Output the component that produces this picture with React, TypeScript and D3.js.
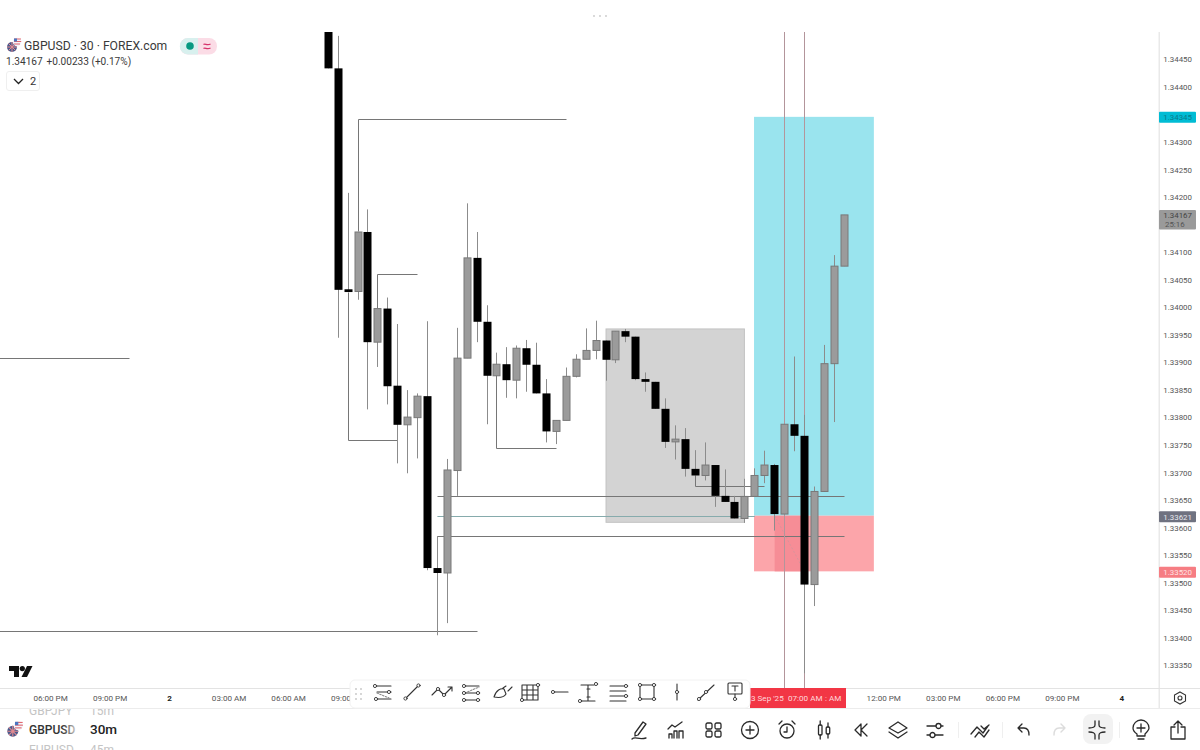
import React from "react";
import * as d3 from "d3";

const opens = [1.34521,1.34433,1.34032,1.34028,1.34136,1.33936,1.33997,1.33857,1.33786,1.33799,1.33838,1.33526,1.33517,1.33703,1.33907,1.34089,1.33973,1.33875,1.33896,1.33867,1.33925,1.33895,1.33843,1.33774,1.33794,1.33874,1.33905,1.33921,1.33939,1.33904,1.33956,1.33946,1.33869,1.33864,1.33815,1.33755,1.33760,1.33706,1.33694,1.33713,1.33657,1.33646,1.33616,1.33656,1.33694,1.33713,1.33624,1.33787,1.33766,1.33496,1.33665,1.33897,1.34074];
const closes = [1.34433,1.34031,1.34027,1.34136,1.33936,1.33997,1.33856,1.33786,1.33800,1.33838,1.33526,1.33517,1.33704,1.33907,1.34089,1.33973,1.33875,1.33896,1.33867,1.33925,1.33895,1.33843,1.33774,1.33794,1.33874,1.33905,1.33921,1.33939,1.33904,1.33956,1.33946,1.33869,1.33864,1.33815,1.33755,1.33760,1.33706,1.33694,1.33713,1.33657,1.33646,1.33616,1.33656,1.33694,1.33713,1.33624,1.33787,1.33766,1.33496,1.33665,1.33897,1.34074,1.34167];
const highs = [1.34521,1.34492,1.34207,1.34136,1.34177,1.33997,1.34017,1.33969,1.33849,1.33843,1.33974,1.33584,1.33724,1.33962,1.34188,1.34136,1.34003,1.33917,1.33927,1.33930,1.33940,1.33935,1.33869,1.33794,1.33890,1.33914,1.33961,1.33975,1.33939,1.33956,1.33960,1.33946,1.33881,1.33864,1.33834,1.33785,1.33780,1.33740,1.33754,1.33713,1.33705,1.33657,1.33688,1.33707,1.33739,1.33715,1.33787,1.33910,1.33804,1.33674,1.33931,1.34094,1.34167];
const lows = [1.34433,1.33944,1.34027,1.34013,1.33814,1.33891,1.33823,1.33716,1.33698,1.33725,1.33522,1.33404,1.33426,1.33657,1.33907,1.33936,1.33787,1.33875,1.33835,1.33834,1.33846,1.33843,1.33754,1.33751,1.33794,1.33872,1.33905,1.33905,1.33866,1.33898,1.33936,1.33867,1.33846,1.33815,1.33744,1.33723,1.33692,1.33694,1.33685,1.33637,1.33646,1.33616,1.33608,1.33656,1.33680,1.33594,1.33624,1.33738,1.33335,1.33457,1.33665,1.33791,1.34074];

const priceTicks = [1.3445,1.344,1.343,1.3425,1.342,1.341,1.3405,1.34,1.3395,1.339,1.3385,1.338,1.3375,1.337,1.3365,1.336,1.3355,1.335,1.3345,1.334,1.3335];
const timeTicks: [number, string, boolean][] = [[-28,"06:00 PM",false],[-22,"09:00 PM",false],[-16,"2",true],[-10,"03:00 AM",false],[-4,"06:00 AM",false],[2,"09:00 AM",false],[56,"12:00 PM",false],[62,"03:00 PM",false],[68,"06:00 PM",false],[74,"09:00 PM",false],[80,"4",true]];

const grayZone = { i0: 28, i1: 41.95, top: 1.3396, bottom: 1.33609 };
const position = { i0: 42.92, i1: 55, target: 1.34345, entry: 1.33621, stop: 1.3352, hit0: 45, hit1: 48 };
const crossIdx = [46, 48];
const paths: [number, number][][] = [
  [[-34, 1.33906], [-20, 1.33906]],
  [[-34, 1.3341], [15, 1.3341]],
  [[3, 1.34136], [3, 1.34341], [24, 1.34341]],
  [[5, 1.33997], [5, 1.34058], [9, 1.34058]],
  [[2, 1.34027], [2, 1.33757], [7, 1.33757]],
  [[17, 1.33875], [17, 1.33743], [23, 1.33743]],
  [[37, 1.33694], [37, 1.33674], [44, 1.33674]],
  [[11, 1.33656], [52, 1.33656]],
  [[11, 1.33583], [52, 1.33583]],
  [[11, 1.33583], [11, 1.33517]],
];
const tealLevel: [number, number][] = [[11, 1.3362], [43, 1.3362]];

const W = 1200, H = 750;
const x = d3.scaleLinear().domain([0, 52]).range([328.3, 844.1]);
const y = d3.scaleLinear().domain([1.3335, 1.3445]).range([665, 59]);
const FONT = "Roboto, sans-serif";
const snap = (v: number) => Math.round(v - 0.5) + 0.5;
const lineGen = d3.line<[number, number]>().x((d) => x(d[0])).y((d) => y(d[1]));
const snapLine = d3.line<[number, number]>().x((d) => snap(x(d[0]))).y((d) => snap(y(d[1])));

const ic = { fill: "none", stroke: "#333", strokeWidth: 1.1, strokeLinecap: "round" as const, strokeLinejoin: "round" as const };
const Dot = ({ cx, cy }: { cx: number; cy: number }) => <circle cx={cx} cy={cy} r={1.6} fill="#fff" stroke="#333" strokeWidth={0.9} />;

function FloatIcons() {
  const items: [number, React.ReactNode][] = [
    [383, <g {...ic}><path d="M-8,-6H8M-6,0H8M-6,7H8" /><path d="M-6,1L6,6" strokeDasharray="1.5 1.5" stroke="#888" /><Dot cx={-8} cy={-6} /><Dot cx={6} cy={0} /><Dot cx={-7} cy={7} /></g>],
    [412, <g {...ic}><path d="M-6,6L6,-6" /><Dot cx={-6.5} cy={6.5} /><Dot cx={6.5} cy={-6.5} /></g>],
    [442, <g {...ic}><path d="M-10,3L-4,-3L2,3L10,-5M6,-5H10V-1" /><Dot cx={-4} cy={-3} /><Dot cx={2} cy={3} /></g>],
    [471, <g {...ic}><path d="M-6,-6H8M-6,1H8M-6,8H8" /><path d="M-6,1L8,-5" strokeDasharray="1.5 1.5" stroke="#888" /><Dot cx={-7} cy={-6} /><Dot cx={-7} cy={1} /><Dot cx={7} cy={1} /><Dot cx={-7} cy={8} /><Dot cx={7} cy={8} /></g>],
    [503, <g {...ic}><path d="M-9,5C-7,-2 -2,-4 1,-3L3,2C1,5 -4,6 -9,5ZM0,-4L3,-6M5,-1L9,-5" /></g>],
    [530, <g {...ic}><path d="M-8,-7H8V8H-8ZM-3,-7V8M3,-7V8M-8,-2H8M-8,3H8" /><Dot cx={8} cy={-7} /><Dot cx={-8} cy={8} /></g>],
    [560, <g {...ic}><path d="M-5,0H8" /><Dot cx={-7} cy={0} /></g>],
    [588, <g {...ic}><path d="M-7,-7H6M-7,9H7M0,-7V9M-1,-3H2M-1,5H2" /><Dot cx={8} cy={-8} /><Dot cx={-8} cy={9} /></g>],
    [618, <g {...ic}><path d="M-8,-6H7M-8,-1H8M-8,4H8M-8,9H8" /><Dot cx={8} cy={-6} /><Dot cx={8} cy={4} /></g>],
    [647, <g {...ic}><path d="M-7,-7H7V7H-7Z" /><Dot cx={-7} cy={-7} /><Dot cx={7} cy={-7} /><Dot cx={-7} cy={7} /><Dot cx={7} cy={7} /></g>],
    [677, <g {...ic}><path d="M0,-8V8" /><Dot cx={0} cy={0} /></g>],
    [706, <g {...ic}><path d="M-8,8L8,-7" /><Dot cx={-7} cy={7} /><Dot cx={0} cy={0} /></g>],
    [735, <g {...ic}><rect x={-7} y={-9} width={14} height={11} rx={1} /><path d="M-3,-6H3M0,-6V-1M0,2V6" /><Dot cx={0} cy={7} /></g>],
  ];
  return <>{items.map(([cx, n], i) => <g key={i} transform={`translate(${cx},692)`}>{n}</g>)}</>;
}

function BottomIcons() {
  const s = { fill: "none", stroke: "#2a2a2a", strokeWidth: 1.3, strokeLinecap: "round" as const, strokeLinejoin: "round" as const };
  const items: [number, React.ReactNode][] = [
    [639, <g {...s}><path d="M-4,3L4,-8L7,-6L-1,5L-4,6ZM-7,9C-4,6 -1,10 7,8" /></g>],
    [676, <g {...s}><path d="M-7,8V4H-4V8M-2,8V1H1V8M3,8V1H7V8M-8,-1L-4,-5L-1,-3L6,-8" /></g>],
    [713, <g {...s}><rect x={-7} y={-7} width={6} height={6} rx={1.5} /><rect x={2} y={-7} width={6} height={6} rx={1.5} /><rect x={-7} y={1} width={6} height={6} rx={1.5} /><rect x={2} y={1} width={6} height={6} rx={1.5} /></g>],
    [750, <g {...s}><circle r={8.5} /><path d="M-4,0H4M0,-4V4" /></g>],
    [787, <g {...s}><circle r={7} cy={1} /><path d="M0,-3V2H-3M-8,-6L-5,-9M8,-6L5,-9" /></g>],
    [824, <g {...s}><rect x={-5.5} y={-5} width={3.5} height={10} rx={1} /><path d="M-3.8,-9V-5M-3.8,5V9M4,-7V-3M4,4V8" /><rect x={2.2} y={-3} width={3.5} height={7} rx={1} /></g>],
    [861, <g {...s}><path d="M0,-6L-6,0L0,6V-6ZM6,-6L0,0L6,6" /></g>],
    [898, <g {...s}><path d="M0,-8L9,-2L0,3L-9,-2ZM-9,2L0,8L9,2" /></g>],
    [935, <g {...s}><path d="M-8,-4H1M6,-4H8M-8,5H-5M0,5H8" /><circle cx={3.5} cy={-4} r={2.5} /><circle cx={-2.5} cy={5} r={2.5} /></g>],
    [980, <g {...s}><path d="M-9,4L-3,-3L3,3L8,-4M-5,7L-1,2L4,7L9,0M1,-4L4,-1L9,-5" /></g>],
    [1023, <g {...s}><path d="M-5,-2L-1,-6M-5,-2L-1,2M-5,-2H1C4,-2 6,0 6,5" /></g>],
    [1060, <g fill="none" stroke="#dcdcdc" strokeWidth={1.4} strokeLinecap="round"><path d="M5,-2L1,-6M5,-2L1,2M5,-2H-1C-4,-2 -6,0 -6,5" /></g>],
    [1097, <g {...s}><path d="M-2,-9V-5C-2,-3 -4,-2 -8,-2M2,-9V-5C2,-3 4,-2 8,-2M-2,9V5C-2,3 -4,2 -8,2M2,9V5C2,3 4,2 8,2" /></g>],
    [1141, <g {...s}><path d="M-4,4C-7,2 -8,-1 -8,-2A8,8 0 1 1 8,-2C8,0 6,2 4,4V6H-4ZM-3,9H3M-4,-2H4M0,-6V2" /></g>],
    [1178, <g {...s}><path d="M0,-9V3M-4,-5L0,-9L4,-5M-3,-3H-7V9H7V-3H3" /></g>],
  ];
  return <>{items.map(([cx, n], i) => <g key={i} transform={`translate(${cx},730)`}>{n}</g>)}</>;
}

const Flag = ({ cx, cy, s = 1 }: { cx: number; cy: number; s?: number }) => (
  <g transform={`translate(${cx},${cy}) scale(${s})`}>
    <circle cx={-2} cy={2} r={5} fill="#4a5a8c" />
    <path d="M-7,2H3M-2,-3V7M-5.5,-1.5L1.5,5.5M1.5,-1.5L-5.5,5.5" stroke="#e28a90" strokeWidth={1} />
    <circle cx={3} cy={-3} r={4.2} fill="#f3f3f8" />
    <path d="M0,-6H7M0,-3.5H7.2M0,-1H6" stroke="#dd5560" strokeWidth={0.9} />
    <rect x={0} y={-6.5} width={3} height={3} fill="#4a76c0" />
  </g>
);

export default function App() {
  const n = opens.length;
  const zoneRect = (i0: number, i1: number, top: number, bottom: number) => ({
    x: x(i0), width: x(i1) - x(i0), y: y(top), height: y(bottom) - y(top),
  });
  return (
    <svg width={W} height={H} viewBox={`0 0 ${W} ${H}`} style={{ position: "fixed", left: 0, top: 0, background: "#fff" }} fontFamily={FONT}>
      <defs>
        <clipPath id="pane"><rect x={0} y={32} width={1158} height={656} /></clipPath>
        <clipPath id="list"><rect x={0} y={709} width={130} height={41} /></clipPath>
        <linearGradient id="fade" x1="0" x2="1" y1="0" y2="0"><stop offset="0.72" stopColor="#333" /><stop offset="1" stopColor="#c4c4c4" /></linearGradient>
      </defs>
      <g clipPath="url(#pane)">
        <rect {...zoneRect(grayZone.i0, grayZone.i1, grayZone.top, grayZone.bottom)} fill="#d3d3d3" stroke="#c2c2c2" strokeWidth={1} />
        <rect {...zoneRect(position.i0, position.i1, position.target, position.entry)} fill="#9ae4ee" />
        <rect {...zoneRect(position.i0, position.i1, position.entry, position.stop)} fill="#fca5aa" />
        <rect {...zoneRect(position.hit0, position.hit1, position.entry, position.stop)} fill="#f68d96" />
        <path d={lineGen([[position.hit0, position.entry], [position.hit1, position.stop]]) ?? ""} stroke="#d8949c" strokeDasharray="2 2" fill="none" />
        {paths.map((p, i) => (
          <path key={i} d={snapLine(p) ?? ""} fill="none" stroke="#767676" strokeWidth={1} />
        ))}
        <path d={d3.line<[number, number]>().x((d) => x(d[0])).y((d) => snap(y(d[1])))(tealLevel) ?? ""} fill="none" stroke="#86abac" strokeWidth={1} />
        {crossIdx.map((c) => (
          <line key={c} x1={snap(x(c))} x2={snap(x(c))} y1={32} y2={688} stroke="#b3959b" strokeWidth={1} />
        ))}
        {d3.range(n).map((i) => {
          const up = closes[i] >= opens[i];
          const cx = snap(x(i));
          const yTop = y(Math.max(opens[i], closes[i]));
          const yBot = y(Math.min(opens[i], closes[i]));
          return (
            <g key={i}>
              <line x1={cx} x2={cx} y1={y(highs[i])} y2={y(lows[i])} stroke="#8c8c8c" strokeWidth={1} />
              {up ? (
                <rect x={cx - 3.5} y={yTop} width={7} height={Math.max(yBot - yTop, 1)} fill="#9b9b9b" stroke="#787878" strokeWidth={1} />
              ) : (
                <rect x={cx - 4} y={yTop} width={8} height={Math.max(yBot - yTop, 2)} fill="#000" />
              )}
            </g>
          );
        })}
      </g>

      {/* price axis */}
      <rect x={1158.5} y={32} width={1.5} height={676} fill="#e9e9e9" />
      {priceTicks.map((p) => (
        <text key={p} x={1192} y={y(p) + 3.4} fontSize={7.9} fill="#555" textAnchor="end">{d3.format(".5f")(p)}</text>
      ))}
      <rect x={1159} y={y(position.target) - 5} width={37} height={11} rx={1} fill="#00bcd4" />
      <text x={1192} y={y(position.target) + 3.6} fontSize={7.9} fill="#0a7a8c" textAnchor="end">1.34345</text>
      <rect x={1159} y={y(closes[n - 1]) - 5} width={37} height={19.5} rx={1} fill="#9a9a9a" />
      <text x={1192} y={y(closes[n - 1]) + 3.5} fontSize={7.9} fill="#444" textAnchor="end">{d3.format(".5f")(closes[n - 1])}</text>
      <text x={1165} y={y(closes[n - 1]) + 12.5} fontSize={7.9} fill="#555">25:16</text>
      <rect x={1159} y={y(position.entry) - 4.5} width={37} height={11} rx={1} fill="#6f7280" />
      <text x={1192} y={y(position.entry) + 4} fontSize={7.9} fill="#e8e8ee" textAnchor="end">1.33621</text>
      <rect x={1159} y={y(position.stop) - 4.5} width={37} height={11} rx={1} fill="#f67d83" />
      <text x={1192} y={y(position.stop) + 4} fontSize={7.9} fill="#ffe3e3" textAnchor="end">1.33520</text>

      {/* time axis */}
      <rect x={0} y={688} width={W} height={1} fill="#e3e3e3" />
      <rect x={0} y={708} width={W} height={1} fill="#ececec" />
      {timeTicks.map(([i, t, bold]) => (
        <text key={t + i} x={x(i)} y={701} fontSize={8.1} fontWeight={bold ? 700 : 400} fill={bold ? "#222" : "#555"} textAnchor="middle">{t}</text>
      ))}
      <rect x={750} y={688} width={96} height={20} fill="#f23645" />
      <text x={751} y={701} fontSize={8.1} fill="#ffd9dc">3 Sep '25</text>
      <text x={788} y={701} fontSize={8.1} fill="#ffd9dc">07:00 AM</text>
      <text x={825} y={701} fontSize={8.1} fill="#ffd9dc">: AM</text>
      <path d="M1180,692L1185.5,695V701L1180,704L1174.5,701V695Z" fill="none" stroke="#333" strokeWidth={1.1} />
      <circle cx={1180} cy={698} r={2} fill="none" stroke="#333" strokeWidth={1.1} />

      {/* drawing toolbar */}
      <rect x={350} y={680} width={400} height={28} rx={5} fill="#fff" stroke="#f2f2f2" />
      {d3.range(3).map((r) => [356, 361].map((cx) => (
        <circle key={`${r}-${cx}`} cx={cx} cy={689 + r * 5} r={0.9} fill="#c4c4c4" />
      )))}
      <FloatIcons />

      {/* header */}
      <Flag cx={14} cy={45} />
      <text x={24} y={49.5} fontSize={12.2} fill="#3a3a3a">GBPUSD · 30 · FOREX.com</text>
      <rect x={180} y={38} width={37} height={16.5} rx={8} fill="#fbdce6" />
      <path d="M188,38H198V54.5H188A8,8 0 0 1 188,38Z" fill="#d8f0ee" />
      <circle cx={190} cy={46} r={3.8} fill="#089981" />
      <path d="M203.5,44.5C205,43 207,46 210.5,44M203.5,48.5C205,47 207,50 210.5,48" fill="none" stroke="#d6336c" strokeWidth={1.3} />
      <text x={6} y={65} fontSize={10.1} fill="#3a3a3a">1.34167</text>
      <text x={46.5} y={65} fontSize={10.1} fill="#3a3a3a">+0.00233 (+0.17%)</text>
      <rect x={6.5} y={71.5} width={33} height={19} rx={2.5} fill="#fff" stroke="#efefef" />
      <path d="M14,79L18.5,83.5L23,79" fill="none" stroke="#222" strokeWidth={1.3} />
      <text x={30} y={85} fontSize={11} fill="#333">2</text>

      {/* top handle */}
      {[594, 600, 606].map((cx) => <circle key={cx} cx={cx} cy={16} r={0.9} fill="#c8c8c8" />)}

      {/* TV logo */}
      <path d="M9,666H19V677H14V671H9Z" fill="#111" />
      <circle cx={22.3} cy={668.6} r={2.6} fill="#111" />
      <path d="M27,666H32.5L27,677H21.5Z" fill="#111" />

      {/* bottom list */}
      <g clipPath="url(#list)">
        <text x={29} y={715} fontSize={12} fill="#c4c4c4">GBPJPY</text>
        <text x={90} y={715} fontSize={12} fill="#c4c4c4">15m</text>
        <text x={29} y={734} fontSize={12} fill="url(#fade)" fontWeight={500}>GBPUSD</text>
        <text x={90} y={734} fontSize={13.5} fill="#222" fontWeight={500}>30m</text>
        <text x={29} y={754} fontSize={12} fill="#c4c4c4">EURUSD</text>
        <text x={90} y={754} fontSize={12} fill="#c4c4c4">45m</text>
      </g>
      <Flag cx={15} cy={729} s={1.1} />

      {/* bottom toolbar */}
      <rect x={1083} y={714} width={30} height={30} rx={8} fill="#f2f2f2" />
      <rect x={958} y={722} width={1} height={16} fill="#efefef" />
      <rect x={1002} y={722} width={1} height={16} fill="#efefef" />
      <rect x={1119} y={722} width={1} height={16} fill="#efefef" />
      <BottomIcons />
    </svg>
  );
}
